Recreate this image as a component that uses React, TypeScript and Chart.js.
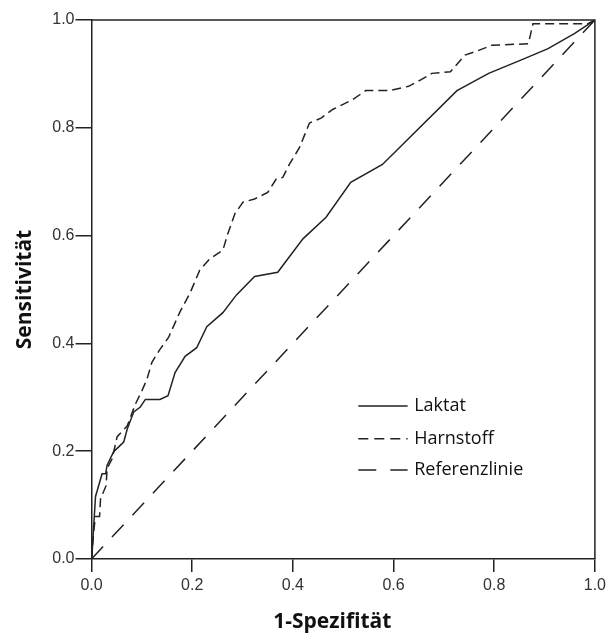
import { useEffect, useRef } from "react";
import { Chart, registerables } from "chart.js";

Chart.register(...registerables);

// ROC curves: false positive rate (1-Spezifität) vs. true positive rate (Sensitivität)
const laktatFpr = [
  0, 0.001, 0.0045, 0.008, 0.021, 0.028, 0.031, 0.044, 0.054, 0.064, 0.071, 0.084, 0.097, 0.107,
  0.136, 0.152, 0.166, 0.186, 0.209, 0.229, 0.261, 0.288, 0.324, 0.37, 0.42, 0.466, 0.515, 0.578,
  0.726, 0.789, 0.854, 0.907, 0.96, 1,
];
const laktatTpr = [
  0, 0.008, 0.063, 0.116, 0.158, 0.158, 0.174, 0.199, 0.208, 0.217, 0.241, 0.273, 0.282, 0.296,
  0.296, 0.303, 0.346, 0.376, 0.392, 0.431, 0.457, 0.49, 0.524, 0.532, 0.594, 0.634, 0.699, 0.732,
  0.869, 0.901, 0.926, 0.947, 0.975, 1,
];

const harnstoffFpr = [
  0, 0.0045, 0.008, 0.016, 0.018, 0.029, 0.031, 0.041, 0.051, 0.071, 0.087, 0.1, 0.11, 0.12, 0.136,
  0.153, 0.166, 0.176, 0.196, 0.215, 0.235, 0.261, 0.271, 0.285, 0.301, 0.324, 0.35, 0.367, 0.38,
  0.393, 0.413, 0.433, 0.456, 0.479, 0.518, 0.545, 0.591, 0.63, 0.654, 0.676, 0.713, 0.742, 0.762,
  0.795, 0.868, 0.877, 0.986, 1,
];
const harnstoffTpr = [
  0, 0.052, 0.079, 0.079, 0.112, 0.136, 0.168, 0.186, 0.227, 0.247, 0.287, 0.312, 0.333, 0.365,
  0.389, 0.411, 0.438, 0.459, 0.494, 0.536, 0.557, 0.573, 0.604, 0.641, 0.662, 0.668, 0.68, 0.705,
  0.708, 0.732, 0.763, 0.809, 0.818, 0.834, 0.852, 0.869, 0.869, 0.877, 0.889, 0.901, 0.904, 0.935,
  0.941, 0.953, 0.956, 0.993, 0.993, 1,
];

const referenzFpr = [0, 1];
const referenzTpr = [0, 1];

const seriesNames = ["Laktat", "Harnstoff", "Referenzlinie"];
const seriesDashes: number[][] = [[], [9, 5], [17, 13]];
const tickValues = [0, 0.2, 0.4, 0.6, 0.8, 1.0];

const INK = "#222222";
const TICK_FONT = "'Liberation Sans', Arial, sans-serif";
const TITLE_FONT = "'Open Sans', 'Noto Sans', sans-serif";

function toPoints(xs: number[], ys: number[]) {
  return xs.map((x, i) => ({ x, y: ys[i] }));
}

// Closes the plot box on the top and right sides
const frameBox = {
  id: "frameBox",
  afterDatasetsDraw(chart: Chart) {
    const { ctx, chartArea: a } = chart;
    ctx.save();
    ctx.strokeStyle = INK;
    ctx.lineWidth = 1.5;
    ctx.beginPath();
    ctx.moveTo(a.left, a.top);
    ctx.lineTo(a.right, a.top);
    ctx.lineTo(a.right, a.bottom);
    ctx.stroke();
    ctx.restore();
  },
};

// Legend drawn inside the plot, lower right
const insideLegend = {
  id: "insideLegend",
  afterDraw(chart: Chart) {
    const { ctx, chartArea: a } = chart;
    const w = a.right - a.left;
    const h = a.bottom - a.top;
    const x0 = a.left + w * 0.53;
    const x1 = a.left + w * 0.628;
    const xt = a.left + w * 0.641;
    const rows = [0.716, 0.777, 0.835];
    ctx.save();
    ctx.font = "18px 'Open Sans', 'Noto Sans', sans-serif";
    ctx.textBaseline = "middle";
    ctx.textAlign = "left";
    seriesNames.forEach((name, i) => {
      const y = a.top + h * rows[i];
      ctx.strokeStyle = INK;
      ctx.lineWidth = 1.5;
      ctx.setLineDash(i === 1 ? [10, 6] : i === 2 ? [18, 14] : []);
      ctx.beginPath();
      ctx.moveTo(x0, y);
      ctx.lineTo(x1, y);
      ctx.stroke();
      ctx.setLineDash([]);
      ctx.fillStyle = "#111111";
      ctx.fillText(name, xt, y);
    });
    ctx.restore();
  },
};

export default function App() {
  const canvasRef = useRef<HTMLCanvasElement | null>(null);

  useEffect(() => {
    const canvas = canvasRef.current;
    if (!canvas) return;
    const series = [
      toPoints(laktatFpr, laktatTpr),
      toPoints(harnstoffFpr, harnstoffTpr),
      toPoints(referenzFpr, referenzTpr),
    ];
    const chart = new Chart(canvas, {
      type: "line",
      data: {
        datasets: series.map((data, i) => ({
          label: seriesNames[i],
          data,
          borderColor: INK,
          borderWidth: 1.5,
          borderDash: seriesDashes[i],
          pointRadius: 0,
          tension: 0,
          fill: false,
        })),
      },
      options: {
        animation: false,
        responsive: false,
        layout: { padding: { top: 20, right: 14, left: 0, bottom: 0 } },
        plugins: {
          legend: { display: false },
          tooltip: { enabled: false },
        },
        scales: {
          x: {
            type: "linear",
            min: 0,
            max: 1,
            afterBuildTicks: (scale: any) => {
              scale.ticks = tickValues.map((v) => ({ value: v }));
            },
            afterFit: (scale: any) => {
              scale.height = 79;
            },
            ticks: {
              callback: (v: any) => Number(v).toFixed(1),
              color: "#333333",
              font: { family: TICK_FONT, size: 16 },
              padding: 4,
              maxRotation: 0,
            },
            grid: {
              display: true,
              drawOnChartArea: false,
              drawTicks: true,
              tickLength: 13,
              color: INK,
              lineWidth: 1.5,
            },
            border: { display: true, color: INK, width: 1.5 },
            title: {
              display: true,
              // trailing spaces nudge the centred title slightly to the left
              text: "1-Spezifität    ",
              color: "#111111",
              font: { family: TITLE_FONT, size: 21, weight: "bold" },
              padding: { top: 0, bottom: 3 },
            },
          },
          y: {
            type: "linear",
            min: 0,
            max: 1,
            afterBuildTicks: (scale: any) => {
              scale.ticks = tickValues.map((v) => ({ value: v }));
            },
            afterFit: (scale: any) => {
              scale.width = 91.5;
            },
            ticks: {
              callback: (v: any) => Number(v).toFixed(1),
              color: "#333333",
              font: { family: TICK_FONT, size: 16 },
              padding: 1,
            },
            grid: {
              display: true,
              drawOnChartArea: false,
              drawTicks: true,
              tickLength: 16,
              color: INK,
              lineWidth: 1.5,
            },
            border: { display: true, color: INK, width: 1.5 },
            title: {
              display: true,
              text: "Sensitivität",
              color: "#111111",
              font: { family: TITLE_FONT, size: 21, weight: "bold" },
              padding: { top: 12, bottom: 0 },
            },
          },
        },
      },
      plugins: [frameBox, insideLegend],
    });
    return () => chart.destroy();
  }, []);

  return (
    <div style={{ position: "fixed", left: 0, top: 0, width: 610, height: 638, background: "#ffffff" }}>
      <canvas ref={canvasRef} width={610} height={638} style={{ display: "block" }} />
    </div>
  );
}
